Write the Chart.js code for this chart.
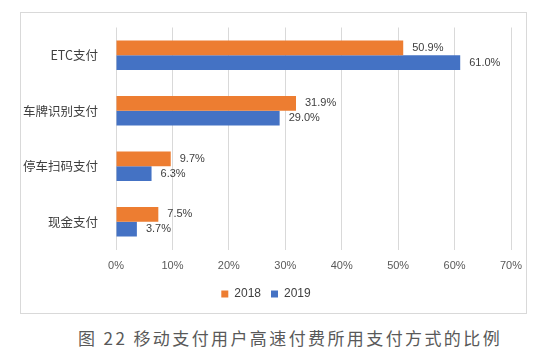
<!DOCTYPE html>
<html>
<head>
<meta charset="utf-8">
<script src="https://cdn.jsdelivr.net/npm/chart.js@4.4.0/dist/chart.umd.min.js"></script>
<style>
  body { margin: 0; background: #fff; width: 550px; height: 358px; position: relative; overflow: hidden; }
  #box { position: absolute; left: 20px; top: 12px; width: 505px; height: 300px; border: 1px solid #d9d9d9; }
  #title { position: absolute; left: 0; top: 325px; width: 580px; text-align: center;
           font-family: "Noto Sans CJK SC", sans-serif; font-size: 17px; color: #595959; letter-spacing: 2.4px; }
</style>
</head>
<body>
<div id="box"><canvas id="c" width="505" height="300"></canvas></div>
<div id="title">图 22 移动支付用户高速付费所用支付方式的比例</div>
<script>
// 类别和数值
const categories = ["ETC支付", "车牌识别支付", "停车扫码支付", "现金支付"];
const values2018 = [50.9, 31.9, 9.7, 7.5];
const values2019 = [61.0, 29.0, 6.3, 3.7];
const xTicks = [0, 10, 20, 30, 40, 50, 60, 70];

// 柱子末端的数值标签
const barLabels = {
  id: "barLabels",
  afterDatasetsDraw(chart) {
    const ctx = chart.ctx;
    ctx.save();
    ctx.font = "11px 'Liberation Sans', Arial, sans-serif";
    ctx.fillStyle = "#404040";
    ctx.textBaseline = "middle";
    chart.data.datasets.forEach((ds, i) => {
      chart.getDatasetMeta(i).data.forEach((bar, j) => {
        ctx.fillText(ds.data[j].toFixed(1) + "%", bar.x + 9, bar.y);
      });
    });
    ctx.restore();
  }
};

new Chart(document.getElementById("c"), {
  type: "bar",
  data: {
    labels: categories,
    datasets: [
      { label: "2018", data: values2018, backgroundColor: "#ED7D31", categoryPercentage: 0.53, barPercentage: 1.0 },
      { label: "2019", data: values2019, backgroundColor: "#4472C4", categoryPercentage: 0.53, barPercentage: 1.0 }
    ]
  },
  options: {
    indexAxis: "y",
    responsive: false,
    animation: false,
    layout: { padding: { top: 14.5, right: 15, bottom: 3, left: 0 } },
    scales: {
      x: {
        min: 0, max: 70,
        afterBuildTicks: s => { s.ticks = xTicks.map(v => ({ value: v })); },
        afterFit: s => { s.height = 28.5; s.paddingLeft = 0; s.paddingRight = 0; },
        grid: { color: "#d9d9d9", drawTicks: false },
        border: { display: false },
        ticks: { padding: 9.5, color: "#595959", font: { size: 11, family: "'Liberation Sans', Arial, sans-serif" }, callback: v => v + "%" }
      },
      y: {
        afterFit: s => { s.width = 95; s.paddingTop = 0; s.paddingBottom = 0; },
        grid: { display: false },
        border: { display: false },
        ticks: { padding: 10, color: "#404040", font: { size: 12.5, family: "'Noto Sans CJK SC', sans-serif" } }
      }
    },
    plugins: {
      legend: {
        position: "bottom",
        labels: { boxWidth: 7, boxHeight: 7, padding: 10, color: "#404040", font: { size: 12, family: "'Liberation Sans', Arial, sans-serif" } }
      },
      tooltip: { enabled: false }
    }
  },
  plugins: [barLabels]
});
</script>
</body>
</html>
